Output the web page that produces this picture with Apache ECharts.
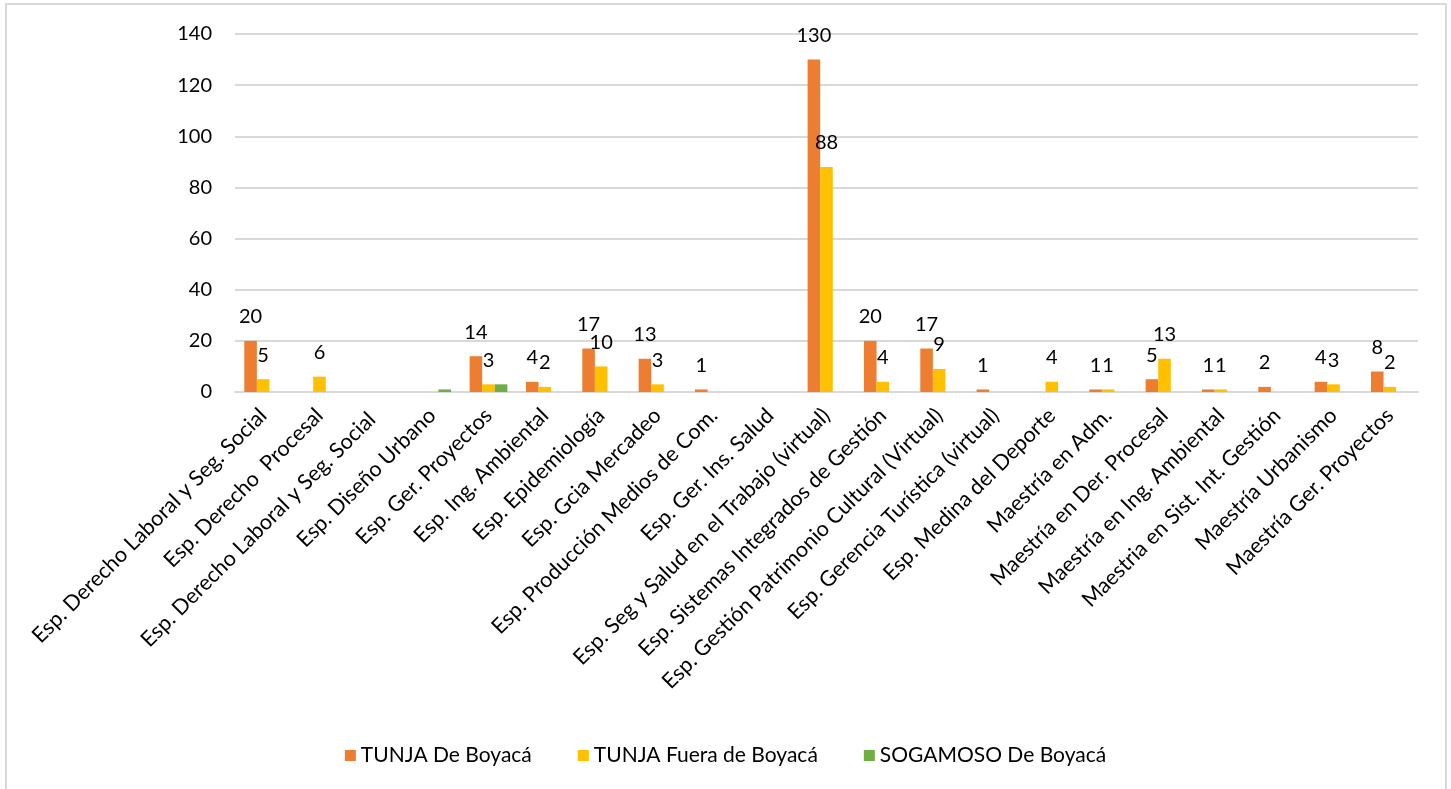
<!DOCTYPE html>
<html>
<head>
<meta charset="utf-8">
<script src="https://cdn.jsdelivr.net/npm/echarts@6/dist/echarts.min.js"></script>
<style>
  html, body { margin: 0; padding: 0; background: #fff; }
  #main { width: 1451px; height: 789px; }
</style>
</head>
<body>
<div id="main"></div>
<script>
// categorías (programas)
var programas = [
  'Esp. Derecho Laboral y Seg. Social',
  'Esp. Derecho  Procesal',
  'Esp. Derecho Laboral y Seg. Social ',
  'Esp. Diseño Urbano',
  'Esp. Ger. Proyectos',
  'Esp. Ing. Ambiental',
  'Esp. Epidemiología',
  'Esp. Gcia Mercadeo',
  'Esp. Producción Medios de Com.',
  'Esp. Ger. Ins. Salud',
  'Esp. Seg y Salud en el Trabajo (virtual)',
  'Esp. Sistemas Integrados de Gestión',
  'Esp. Gestión Patrimonio Cultural (Virtual)',
  'Esp. Gerencia Turística (virtual)',
  'Esp. Medina del Deporte',
  'Maestría en Adm.',
  'Maestría en Der. Procesal',
  'Maestría en Ing. Ambiental',
  'Maestria en Sist. Int. Gestión',
  'Maestría Urbanismo',
  'Maestría Ger. Proyectos'
];

var seriesNames = ['TUNJA De Boyacá', 'TUNJA Fuera de Boyacá', 'SOGAMOSO De Boyacá'];

var tunjaDe    = [20, null, null, null, 14, 4, 17, 13, 1, null, 130, 20, 17, 1, null, 1, 5, 1, 2, 4, 8];
var tunjaFuera = [5, 6, null, null, 3, 2, 10, 3, null, null, 88, 4, 9, null, 4, 1, 13, 1, null, 3, 2];
var sogamosoDe = [null, null, null, 1, 3, null, null, null, null, null, null, null, null, null, null, null, null, null, null, null, null];

var yTicks = { min: 0, max: 140, interval: 20 };

var colores = ['#ED7D31', '#FFC000', '#70AD47'];
var fuente = 'Lato, "Open Sans", sans-serif';

var chartDom = document.getElementById('main');
var myChart = echarts.init(chartDom);

var etiqueta = {
  show: true,
  position: 'top',
  distance: 14,
  color: '#000',
  fontSize: 20,
  fontFamily: fuente
};

var option = {
  animation: false,
  color: colores,
  textStyle: { fontFamily: fuente },
  graphic: [{
    type: 'rect',
    shape: { x: 6, y: 4, width: 1440, height: 820 },
    style: { fill: 'none', stroke: '#d9d9d9', lineWidth: 2 },
    silent: true
  }],
  legend: {
    top: 740,
    left: 'center',
    itemWidth: 11,
    itemHeight: 11,
    itemGap: 46,
    icon: 'rect',
    textStyle: { fontSize: 21, color: '#000', fontFamily: fuente },
    data: seriesNames
  },
  grid: {
    left: 235,
    right: 33,
    top: 34,
    bottom: 397
  },
  xAxis: {
    type: 'category',
    data: programas,
    axisLine: { lineStyle: { color: '#d9d9d9', width: 2 } },
    axisTick: { show: false },
    axisLabel: {
      rotate: 45,
      interval: 0,
      margin: 20,
      fontSize: 21.5,
      color: '#000',
      fontFamily: fuente
    }
  },
  yAxis: {
    type: 'value',
    min: yTicks.min,
    max: yTicks.max,
    interval: yTicks.interval,
    axisLine: { show: false },
    axisTick: { show: false },
    splitLine: { lineStyle: { color: '#d9d9d9', width: 2 } },
    axisLabel: { fontSize: 20, color: '#000', margin: 23, fontFamily: fuente }
  },
  series: [
    {
      name: seriesNames[0],
      type: 'bar',
      data: tunjaDe,
      barGap: '0%',
      barCategoryGap: '33%',
      label: etiqueta
    },
    {
      name: seriesNames[1],
      type: 'bar',
      data: tunjaFuera,
      label: etiqueta
    },
    {
      name: seriesNames[2],
      type: 'bar',
      data: sogamosoDe
    }
  ]
};

option && myChart.setOption(option);
</script>
</body>
</html>
